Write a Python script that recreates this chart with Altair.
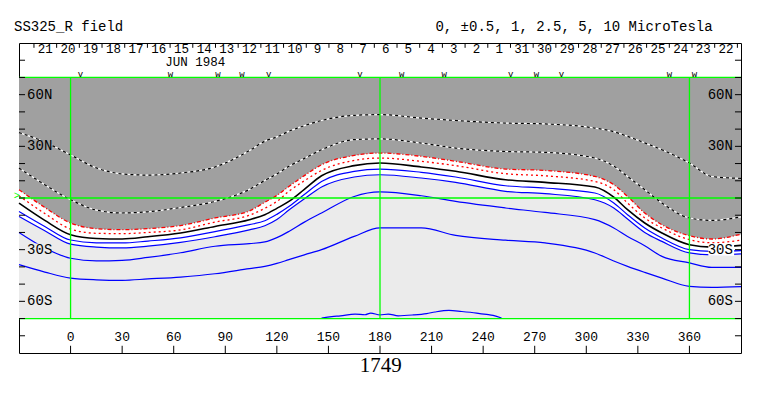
import altair as alt
import pandas as pd

# ---------------- data ----------------
LON = [-30, -15, 0, 15, 30, 45, 64, 84, 104, 113, 120, 127, 136, 146, 165, 180,
       204, 224, 253, 276, 305, 316, 324, 334, 344, 360, 373, 390]

# contour latitudes (deg) at each LON
NEG5 = [38, 32.5, 25, 17.5, 14, 13.3, 14.5, 18, 27.5, 33, 35.5, 38.7, 42, 45, 48, 48.4,
        46.4, 45, 43.5, 43, 40.6, 38.5, 35.8, 32, 28, 20.3, 12.5, 11.4]
NEG25 = [17.4, 7.7, -1, -7, -8.7, -8, -5.5, -2, 5, 10.2, 14, 18.4, 23, 28, 33.9, 34.3,
         31.9, 29, 27, 26.5, 23.2, 18.5, 12.5, 4.8, -2.9, -11.6, -13, -11]
NEG1 = [4.8, -5.5, -14.5, -17.8, -18.4, -17.8, -16, -11.6, -7.5, -2.5, 1.5, 6.7, 13, 19.3,
        24.7, 26.1, 24.2, 21.3, 16.8, 16, 12.5, 7.7, 0.9, -8.7, -15.5, -21.9, -23.8, -21]
NEG05 = [1.3, -9, -18, -20.5, -20.7, -20, -18.5, -14, -10, -6, -2, 3.9, 10, 16, 21.8, 23.2,
         21.3, 18.8, 14.1, 12.9, 9.6, 4.8, -2.9, -11.6, -17.4, -24.2, -26, -24.5]
ZERO = [-3, -13, -21.3, -23.5, -23.8, -22.5, -20.3, -16.5, -12.6, -9.7, -6, -2, 5, 12.9,
        18.8, 20.3, 18, 15.5, 10.6, 9.1, 6.4, 0.5, -6.8, -14.5, -20.3, -27.1, -28.5, -27.5]
POS05 = [-7.8, -16.5, -24.4, -26, -26.1, -25, -23.2, -19.5, -15.5, -13.2, -9.5, -5, 2, 9.6,
         15.5, 16.8, 14.9, 12.2, 7.1, 5.8, 2.9, -2.9, -9.7, -17.4, -23.2, -30, -31, -30.5]
POS1 = [-10.7, -19, -26.8, -28.5, -29, -28, -25.8, -22.5, -18.5, -16.1, -12.5, -7, -0.5, 6.4,
        12.2, 13.5, 11.6, 9.1, 3.9, 2.5, -1, -5.8, -12.2, -20, -25.2, -31.9, -33, -32.5]
POS25 = [-20, -29, -35, -36.5, -36.2, -34.5, -31.8, -28, -26.5, -25.5, -23, -19.4, -14, -8.7,
         0.9, 3.5, 1.3, -2, -5.8, -8.4, -12.6, -17.4, -22.3, -27.7, -33.9, -37.7, -40.3, -40.3]
POS5 = [-38.7, -43, -46.5, -47.5, -47.8, -47, -45.9, -44, -41, -39.7, -38, -35.8, -33, -30,
        -22.3, -17.4, -17.4, -21.7, -24.5, -26.1, -31.9, -36.6, -39.7, -43.2, -46.5, -51.3, -51.9, -51.5]
POS10_LON = [146, 152, 157, 165.5, 171.3, 174.6, 180, 184.8, 190.6, 199.4, 207.1, 212, 220.1,
             227.5, 236.2, 242, 245.8, 250.7]
POS10_LAT = [-69.7, -68.9, -68.4, -67.4, -67.8, -66.8, -67.9, -67.4, -68.4, -67.9, -67.1,
             -66.2, -65.3, -65.9, -66.8, -67.6, -68.2, -69.7]

DAYS = ["21", "20", "19", "18", "17", "16", "15", "14", "13", "12", "11", "10", "9", "8", "7",
        "6", "5", "4", "3", "2", "1", "31", "30", "29", "28", "27", "26", "25", "24", "23", "22"]
DAY0_LON = -21.3
DAY_STEP = 13.2

MARK_LON = [5.8, 58.1, 85.8, 99.7, 115.2, 168.4, 192.6, 217.4, 256.1, 271, 285.5, 348.4, 362.9]
MARK_TXT = ["v", "w", "w", "w", "v", "v", "w", "w", "v", "w", "v", "w", "w"]

XTICKS = [0, 30, 60, 90, 120, 150, 180, 210, 240, 270, 300, 330, 360]
LAT_LABELS = ["60N", "30N", "30S", "60S"]
LAT_VALUES = [60, 30, -30, -60]
LEFT_MASK = ["#A0A0A0", "#A0A0A0", "#EBEBEB", "#EBEBEB"]
RIGHT_MASK = ["#A0A0A0", "#A0A0A0", "#FFFFFF", "#EBEBEB"]

DARK = "#A0A0A0"
LIGHT = "#EBEBEB"
GREEN = "#00FF00"
MONO = "Liberation Mono"

# ---------------- helpers ----------------
X = lambda f="lon": alt.X(f"{f}:Q", scale=alt.Scale(domain=[-30, 390], nice=False, zero=False), axis=None)
Y = lambda f="lat": alt.Y(f"{f}:Q", scale=alt.Scale(domain=[-90, 90], nice=False, zero=False), axis=None)

wide = pd.DataFrame({"lon": LON, "neg1": NEG1, "pos1": POS1, "top": [70] * len(LON)})

layers = []
# background light grey
bg = pd.DataFrame({"x": [-30], "x2": [390], "y": [-70], "y2": [70]})
layers.append(alt.Chart(bg).mark_rect(color=LIGHT).encode(
    x=X("x"), x2="x2:Q", y=Y("y"), y2="y2:Q"))
# white band |B|<1
layers.append(alt.Chart(wide).mark_area(color="#FFFFFF", interpolate="monotone").encode(
    x=X(), y=Y("pos1"), y2="neg1:Q"))
# dark grey negative region
layers.append(alt.Chart(wide).mark_area(color=DARK, interpolate="monotone").encode(
    x=X(), y=Y("neg1"), y2="top:Q"))


def line(vals, lons=LON, **kw):
    df = pd.DataFrame({"lon": lons, "lat": vals})
    return alt.Chart(df).mark_line(interpolate="monotone", **kw).encode(x=X(), y=Y())


for v in (NEG5, NEG25):
    layers.append(line(v, color="#FFFFFF", strokeWidth=1.2))
    layers.append(line(v, color="#000000", strokeWidth=1.2, strokeDash=[3, 3]))
layers.append(line(NEG1, color="#FF0000", strokeWidth=1.3, strokeDash=[4, 2, 1, 2]))
layers.append(line(NEG05, color="#FF0000", strokeWidth=1.3, strokeDash=[2, 3]))
layers.append(line(ZERO, color="#000000", strokeWidth=1.6))
for v in (POS05, POS1, POS25, POS5):
    layers.append(line(v, color="#0000FF", strokeWidth=1.2))
layers.append(line(POS10_LAT, POS10_LON, color="#0000FF", strokeWidth=1.2))

# green grid lines
gv = pd.DataFrame({"lon": [0, 180, 360], "a": [-70] * 3, "b": [70] * 3})
layers.append(alt.Chart(gv).mark_rule(color=GREEN, strokeWidth=1.3).encode(x=X(), y=Y("a"), y2="b:Q"))
gh = pd.DataFrame({"lat": [0, 70, -70], "a": [-30] * 3, "b": [390] * 3})
layers.append(alt.Chart(gh).mark_rule(color=GREEN, strokeWidth=1.3).encode(y=Y(), x=X("a"), x2="b:Q"))

# side ticks
tk = list(range(-80, 81, 10))
lt = pd.DataFrame({"lat": tk, "a": [-30] * len(tk), "b": [-26.5] * len(tk)})
rt = pd.DataFrame({"lat": tk, "a": [386.5] * len(tk), "b": [390] * len(tk)})
for d in (lt, rt):
    layers.append(alt.Chart(d).mark_rule(color="black", strokeWidth=1).encode(y=Y(), x=X("a"), x2="b:Q"))

# lat labels with masks
def lab_df(side):
    if side == "L":
        return pd.DataFrame({"lat": LAT_VALUES, "t": LAT_LABELS, "c": LEFT_MASK,
                             "lon": [-25.3] * 4, "m1": [-26] * 4, "m2": [-11] * 4,
                             "y1": [v - 3.6 for v in LAT_VALUES], "y2": [v + 3.6 for v in LAT_VALUES]})
    return pd.DataFrame({"lat": LAT_VALUES, "t": LAT_LABELS, "c": RIGHT_MASK,
                         "lon": [385.3] * 4, "m1": [371] * 4, "m2": [386] * 4,
                         "y1": [v - 3.6 for v in LAT_VALUES], "y2": [v + 3.6 for v in LAT_VALUES]})

for side, al in (("L", "left"), ("R", "right")):
    d = lab_df(side)
    layers.append(alt.Chart(d).mark_rect().encode(
        x=X("m1"), x2="m2:Q", y=Y("y1"), y2="y2:Q", color=alt.Color("c:N", scale=None)))
    layers.append(alt.Chart(d).mark_text(font=MONO, fontSize=14, align=al, baseline="middle", color="black").encode(
        x=X(), y=Y(), text="t:N"))

# green marker at equator
layers.append(alt.Chart(pd.DataFrame({"lon": [-31.3], "lat": [1.2], "t": [">"]})).mark_text(
    font=MONO, fontSize=10, color=GREEN, align="center", baseline="middle").encode(x=X(), y=Y(), text="t:N"))

# x labels and ticks
xl = pd.DataFrame({"lon": XTICKS, "lat": [-80.8] * len(XTICKS), "t": [str(v) for v in XTICKS],
                   "a": [-90] * len(XTICKS), "b": [-85.8] * len(XTICKS)})
layers.append(alt.Chart(xl).mark_text(font=MONO, fontSize=13, align="center", baseline="middle").encode(
    x=X(), y=Y(), text="t:N"))
layers.append(alt.Chart(xl).mark_rule(color="black").encode(x=X(), y=Y("a"), y2="b:Q"))

# date strip
dticks = pd.DataFrame({"lon": [DAY0_LON + DAY_STEP * k for k in range(len(DAYS) + 1)],
                       "a": [87.2] * (len(DAYS) + 1), "b": [90] * (len(DAYS) + 1)})
layers.append(alt.Chart(dticks).mark_rule(color="black").encode(x=X(), y=Y("a"), y2="b:Q"))
dl = pd.DataFrame({"lon": [DAY0_LON + DAY_STEP * (k + 0.5) for k in range(len(DAYS))],
                   "lat": [86.4] * len(DAYS), "t": DAYS})
layers.append(alt.Chart(dl).mark_text(font=MONO, fontSize=12.5, align="center", baseline="middle").encode(
    x=X(), y=Y(), text="t:N"))
layers.append(alt.Chart(pd.DataFrame({"lon": [72.5], "lat": [78.8], "t": ["JUN 1984"]})).mark_text(
    font=MONO, fontSize=12.5, align="center", baseline="middle").encode(x=X(), y=Y(), text="t:N"))
mk = pd.DataFrame({"lon": MARK_LON, "lat": [70.5] * len(MARK_LON), "t": MARK_TXT})
layers.append(alt.Chart(mk).mark_text(font=MONO, fontSize=9, align="center", baseline="alphabetic").encode(
    x=X(), y=Y(), text="t:N"))

# titles
tt = pd.DataFrame({"lon": [-32.9, 373.5], "lat": [99.5, 99.5],
                   "t": ["SS325_R field", "0, \u00b10.5, 1, 2.5, 5, 10 MicroTesla"]})
layers.append(alt.Chart(tt.iloc[[0]]).mark_text(font=MONO, fontSize=14, align="left", baseline="middle").encode(
    x=X(), y=Y(), text="t:N"))
layers.append(alt.Chart(tt.iloc[[1]]).mark_text(font=MONO, fontSize=14, align="right", baseline="middle").encode(
    x=X(), y=Y(), text="t:N"))
layers.append(alt.Chart(pd.DataFrame({"lon": [180.5], "lat": [-97.3], "t": ["1749"]})).mark_text(
    font="Liberation Serif", fontSize=21, align="center", baseline="middle").encode(x=X(), y=Y(), text="t:N"))

chart = alt.layer(*layers).properties(
    width=722, height=310,
    padding={"left": 11, "top": 35, "right": 10, "bottom": 30},
    autosize=alt.AutoSizeParams(type="none"),
    background="white",
).configure_view(stroke="black", strokeWidth=1)

chart.save("out.html", embed_options={"renderer": "svg", "actions": False})
